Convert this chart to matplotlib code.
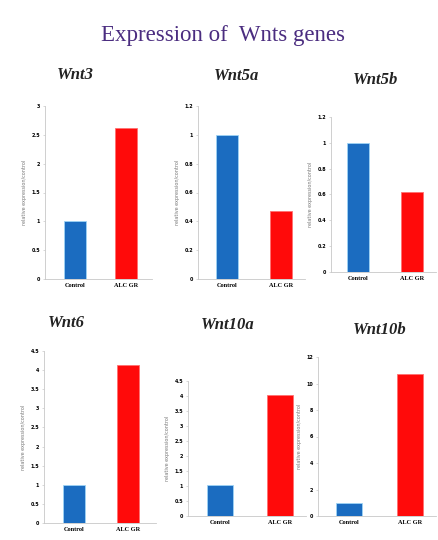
import numpy as np
import matplotlib.pyplot as plt

# data
genes = ['Wnt3', 'Wnt5a', 'Wnt5b', 'Wnt6', 'Wnt10a', 'Wnt10b']
groups = ['Control', 'ALC GR']
control = [1.0, 1.0, 1.0, 1.0, 1.03, 1.0]
alc_gr = [2.62, 0.47, 0.62, 4.13, 4.02, 10.7]
y_tops = [3, 1.2, 1.2, 4.5, 4.5, 12]
y_steps = [0.5, 0.2, 0.2, 0.5, 0.5, 2]
tick_labels = [
    ['0', '0.5', '1', '1.5', '2', '2.5', '3'],
    ['0', '0.2', '0.4', '0.6', '0.8', '1', '1.2'],
    ['0', '0.2', '0.4', '0.6', '0.8', '1', '1.2'],
    ['0', '0.5', '1', '1.5', '2', '2.5', '3', '3.5', '4', '4.5'],
    ['0', '0.5', '1', '1.5', '2', '2.5', '3', '3.5', '4', '4.5'],
    ['0', '2', '4', '6', '8', '10', '12'],
]

W, H = 438, 540
# axes boxes in pixels: left, right, top, bottom
boxes = [(45, 152, 106, 279), (198, 305, 106, 279), (331, 436, 117, 272),
         (44, 156, 351, 523), (188, 306, 381, 516), (318, 436, 357, 516)]
# bar centres in pixels (control, alc)
centres = [(75, 126), (227, 281), (358, 412), (74, 128), (220, 280), (349, 410)]
title_pos = [(75, 75), (237, 76), (376, 80), (66, 323), (228, 325), (380, 330)]

fig = plt.figure(figsize=(W / 100, H / 100), dpi=100)
fig.text(223 / W, 1 - 36 / H, 'Expression of  Wnts genes', ha='center', va='center',
         fontsize=16.5, color='#4b2d80', family='Liberation Serif')

for i in range(6):
    l, r, t, b = boxes[i]
    ax = fig.add_axes([l / W, 1 - b / H, (r - l) / W, (b - t) / H])
    c0, c1 = centres[i]
    s = c1 - c0
    ax.set_xlim(-(c0 - l) / s, (r - c0) / s)
    ax.bar([0, 1], [control[i], alc_gr[i]], width=0.42,
           color=['#1b6cc0', '#ff0a0a'], edgecolor=['#9fd4f5', '#ff7070'], linewidth=0.6)
    ax.set_ylim(0, y_tops[i])
    ax.set_yticks(np.arange(len(tick_labels[i])) * y_steps[i])
    ax.set_yticklabels(tick_labels[i], fontsize=3.5, fontweight='bold')
    ax.set_xticks([0, 1])
    ax.set_xticklabels(groups, fontsize=4.5, fontweight='bold', family='Liberation Serif')
    ax.tick_params(axis='y', length=1.5, width=0.4, color='#bbbbbb', pad=2)
    ax.tick_params(axis='x', length=0, pad=3)
    for sp in ['top', 'right']:
        ax.spines[sp].set_visible(False)
    for sp in ['left', 'bottom']:
        ax.spines[sp].set_color('#c8c8c8')
        ax.spines[sp].set_linewidth(0.6)
    ax.set_ylabel('relative expression/control', fontsize=3.5, color='#777777', labelpad=3)
    tx, ty = title_pos[i]
    fig.text(tx / W, 1 - ty / H, genes[i], ha='center', va='center', fontsize=12,
             fontweight='bold', fontstyle='italic', family='Liberation Serif', color='#222222')

fig.savefig('out.png', dpi=100)
